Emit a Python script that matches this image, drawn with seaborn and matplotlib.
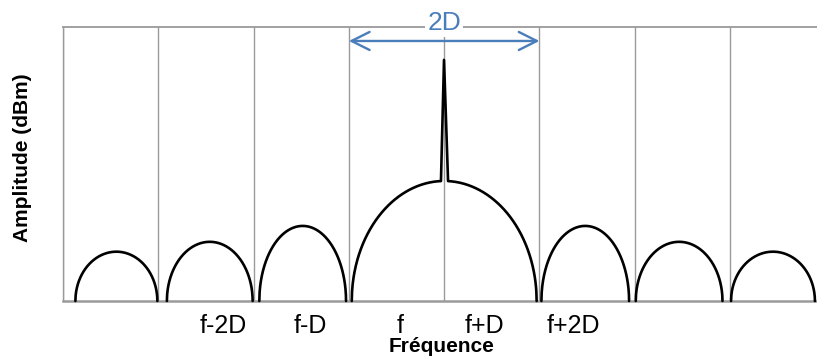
import numpy as np
import pandas as pd
import matplotlib
matplotlib.use("Agg")
import matplotlib.pyplot as plt
import seaborn as sns

# Spectrum lobes: edges (in units of D) and peak level of each lobe
lobe_left = [0.13, 1.09, 2.06, 3.03, 5.02, 6.01, 7.01]
lobe_right = [0.99, 1.99, 2.97, 4.97, 5.94, 6.92, 7.89]
lobe_peak = [18.0, 21.6, 27.4, 43.8, 27.4, 21.6, 18.0]

# Carrier line on top of the main lobe
spike_x = [3.966, 3.998, 4.04]
spike_top = 88.0

tick_pos = [1.68, 2.59, 3.54, 4.42, 5.36]
tick_labels = ["f-2D", "f-D", "f", "f+D", "f+2D"]

span_start, span_end, span_level = 3.0, 5.0, 94.9

sns.set_theme(style="white")
plt.rcParams["font.family"] = ["Liberation Sans", "DejaVu Sans"]
plt.rcParams["text.color"] = "black"
plt.rcParams["axes.labelcolor"] = "black"

grey = "#9a9a9a"
blue = "#4a7ebb"
EXP = 2.0


def lobe_level(x, left, right, peak):
    c = (left + right) / 2
    hw = (right - left) / 2
    t = np.clip(np.abs(np.asarray(x) - c) / hw, 0, 1)
    return peak * np.sqrt(1 - t ** EXP)


rows = []
for i, (l, r, p) in enumerate(zip(lobe_left, lobe_right, lobe_peak)):
    x = np.linspace(l, r, 600)
    y = lobe_level(x, l, r, p)
    if l < spike_x[1] < r:
        keep = (x < spike_x[0]) | (x > spike_x[-1])
        x, y = x[keep], y[keep]
        ends = lobe_level([spike_x[0], spike_x[-1]], l, r, p)
        x = np.concatenate([x, spike_x])
        y = np.concatenate([y, [ends[0], spike_top, ends[1]]])
    for xi, yi in zip(x, y):
        rows.append({"lobe": i, "freq": xi, "amp": yi})
df = pd.DataFrame(rows)

fig = plt.figure(figsize=(8.17, 3.58), dpi=100)
ax = fig.add_axes([63 / 817, 57 / 358, 762.4 / 817, 274 / 358])

sns.lineplot(data=df, x="freq", y="amp", units="lobe", estimator=None,
             sort=True, color="black", lw=1.9, ax=ax, zorder=4,
             legend=False)
for ln in ax.lines:
    ln.set_clip_on(False)

ax.set_xlim(0, 8)
ax.set_ylim(0, 100)

# Vertical separators every D
ax.set_xticks(np.arange(0, 9), minor=True)
ax.grid(True, which="minor", axis="x", color=grey, lw=1.0)
ax.grid(False, which="major")
ax.set_xticks(tick_pos)
ax.set_xticklabels(tick_labels, fontsize=18)
ax.set_yticks([])
ax.tick_params(axis="x", which="both", length=0, pad=9.5, colors="black")

for side in ("left", "top", "bottom"):
    ax.spines[side].set_visible(True)
    ax.spines[side].set_color(grey)
ax.spines["left"].set_linewidth(1.0)
ax.spines["top"].set_linewidth(1.3)
ax.spines["bottom"].set_linewidth(1.8)
ax.spines["right"].set_visible(False)

ax.set_xlabel("Fréquence", fontsize=15, fontweight="bold", color="black")
ax.xaxis.set_label_coords(0.497, -0.133)
ax.set_ylabel("Amplitude (dBm)", fontsize=15, fontweight="bold", color="black")
ax.yaxis.label.set_va("center")
ax.yaxis.set_label_coords(-0.0525, 0.522)

# Bandwidth marker
ax.annotate("", xy=(span_end, span_level), xytext=(span_start, span_level),
            arrowprops=dict(arrowstyle="<->,head_length=1.3,head_width=0.65",
                            color=blue, lw=1.7, shrinkA=0, shrinkB=0,
                            mutation_scale=10),
            annotation_clip=False, zorder=5)
ax.text((span_start + span_end) / 2, 1.016, "2D", color=blue, fontsize=19,
        ha="center", va="center",
        transform=ax.get_xaxis_transform(), clip_on=False, zorder=6,
        bbox=dict(facecolor="white", edgecolor="none", pad=1.5))

fig.savefig("out.png", dpi=100)
